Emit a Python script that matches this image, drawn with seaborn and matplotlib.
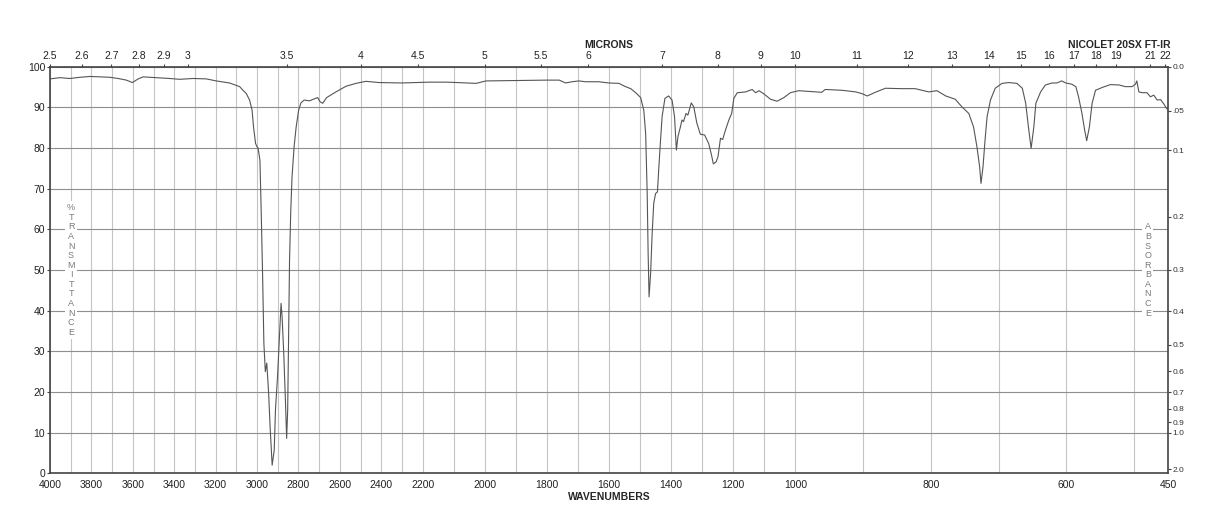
import matplotlib
matplotlib.use("Agg")
import matplotlib.pyplot as plt
import numpy as np
import seaborn as sns

# spectrum (cm-1, %T)
wavenumber = [4000, 3952, 3904, 3855, 3807, 3759, 3711, 3671, 3631, 3602,
              3574, 3550, 3486, 3422, 3373, 3309, 3245, 3197, 3133, 3084,
              3068, 3052, 3036, 3024, 3017, 3007, 3000, 2995, 2986, 2980,
              2973, 2967, 2960, 2953, 2944, 2937, 2927, 2917, 2911, 2901,
              2892, 2884, 2879, 2871, 2863, 2857, 2852, 2847, 2843, 2837,
              2831, 2821, 2811, 2799, 2788, 2772, 2747, 2728, 2707, 2696,
              2683, 2664, 2619, 2570, 2522, 2474, 2410, 2300, 2179, 2120,
              2060, 2028, 1996, 1900, 1800, 1760, 1740, 1719, 1697, 1676,
              1633, 1601, 1568, 1547, 1530, 1514, 1498, 1488, 1482, 1477,
              1474, 1471, 1466, 1461, 1456, 1450, 1444, 1440, 1434, 1429,
              1420, 1408, 1397, 1389, 1383, 1378, 1370, 1365, 1360, 1352,
              1346, 1335, 1327, 1317, 1306, 1292, 1279, 1270, 1264, 1255,
              1249, 1241, 1234, 1225, 1214, 1205, 1198, 1187, 1160, 1139,
              1128, 1117, 1101, 1080, 1059, 1037, 1016, 995, 961, 956,
              931, 911, 902, 894, 882, 867, 843, 823, 803, 791,
              778, 764, 754, 744, 737, 732, 728, 726, 723, 720,
              717, 712, 705, 695, 685, 673, 665, 660, 656, 652,
              648, 645, 638, 631, 621, 614, 607, 601, 592, 586,
              582, 577, 573, 570, 566, 562, 557, 547, 535, 522,
              513, 503, 498, 496, 493, 488, 481, 476, 471, 466,
              461, 456, 452, 450]
transmittance = [97.0, 97.3, 97.1, 97.4, 97.6, 97.5, 97.4, 97.1, 96.7, 96.1,
                 97.0, 97.5, 97.3, 97.1, 96.9, 97.1, 97.0, 96.5, 96.0, 95.1,
                 94.2, 93.4, 91.8, 89.3, 85.2, 81.1, 80.3, 80.0, 77.0, 64.7,
                 48.3, 32.0, 25.0, 27.1, 19.7, 11.5, 2.0, 5.7, 15.6, 23.8,
                 33.6, 41.8, 38.5, 29.5, 18.0, 8.6, 15.6, 36.0, 52.4, 64.7,
                 72.9, 80.3, 85.2, 89.3, 91.1, 91.8, 91.6, 92.0, 92.4, 91.4,
                 91.0, 92.4, 93.8, 95.2, 95.9, 96.4, 96.1, 96.0, 96.2, 96.2,
                 96.0, 95.9, 96.5, 96.6, 96.7, 96.7, 96.0, 96.3, 96.5, 96.3,
                 96.3, 96.0, 95.9, 95.1, 94.6, 93.6, 92.4, 89.3, 83.6, 68.8,
                 54.1, 43.4, 49.2, 59.0, 66.4, 68.8, 69.2, 74.6, 82.0, 87.7,
                 92.2, 92.8, 91.8, 87.7, 79.5, 82.8, 85.2, 86.9, 86.5, 88.5,
                 88.1, 91.1, 90.1, 86.1, 83.4, 83.2, 81.1, 78.3, 76.1, 76.6,
                 77.9, 82.4, 82.1, 84.4, 86.9, 88.5, 92.2, 93.6, 93.8, 94.4,
                 93.6, 94.1, 93.3, 92.0, 91.5, 92.4, 93.6, 94.1, 93.7, 94.4,
                 94.2, 93.8, 93.4, 92.8, 93.7, 94.7, 94.6, 94.6, 93.8, 94.1,
                 92.8, 92.0, 90.1, 88.5, 85.2, 80.3, 75.4, 71.3, 75.4, 82.0,
                 87.7, 91.8, 94.7, 95.9, 96.1, 95.9, 94.7, 91.0, 85.2, 79.9,
                 85.2, 91.0, 93.8, 95.5, 96.0, 96.0, 96.5, 96.0, 95.7, 95.1,
                 92.6, 88.5, 84.4, 81.8, 85.2, 91.0, 94.2, 94.9, 95.6, 95.5,
                 95.1, 95.1, 95.7, 96.5, 93.8, 93.6, 93.6, 92.6, 93.0, 91.8,
                 91.9, 90.8, 89.7, 89.5]

wn_ticks = [4000, 3800, 3600, 3400, 3200, 3000, 2800, 2600, 2400, 2200,
            2000, 1800, 1600, 1400, 1200, 1000, 800, 600, 450]
micron_ticks = [2.5, 2.6, 2.7, 2.8, 2.9, 3, 3.5, 4, 4.5, 5, 5.5, 6, 7, 8, 9,
                10, 11, 12, 13, 14, 15, 16, 17, 18, 19, 21, 22]
micron_labels = ["2.5", "2.6", "2.7", "2.8", "2.9", "3", "3.5", "4", "4.5",
                 "5", "5.5", "6", "7", "8", "9", "10", "11", "12", "13", "14",
                 "15", "16", "17", "18", "19", "21", "22"]
abs_ticks = [0.0, 0.05, 0.1, 0.2, 0.3, 0.4, 0.5, 0.6, 0.7, 0.8, 0.9, 1.0, 2.0]
abs_labels = ["0.0", ".05", "0.1", "0.2", "0.3", "0.4", "0.5", "0.6", "0.7",
              "0.8", "0.9", "1.0", "2.0"]

# chart paper: 4000-2200, 2200-1000 and 1000-450 each take a third of the width
breaks = [450, 1000, 2200, 4000]


def fwd(w):
    return np.interp(w, breaks, [0, 1, 2, 3])


def inv(u):
    return np.interp(u, [0, 1, 2, 3], breaks)


sns.set_style("white")
plt.rcParams["font.family"] = ["Liberation Sans", "DejaVu Sans"]

W, H = 1218, 528
fig = plt.figure(figsize=(W / 100, H / 100), dpi=100)
x0, x1, ytop, ybot = 50, 1168, 66.7, 473.3
ax = fig.add_axes([x0 / W, (H - ybot) / H, (x1 - x0) / W, (ybot - ytop) / H])

sns.lineplot(x=wavenumber, y=transmittance, ax=ax, color="#555555",
             lw=0.8, estimator=None, sort=False)

ax.set_xscale("function", functions=(fwd, inv))
ax.set_xlim(4000, 450)
ax.set_ylim(0, 100)

ax.set_xticks(wn_ticks)
ax.set_xticklabels([str(t) for t in wn_ticks])
ax.set_xticks(list(range(500, 4000, 100)), minor=True)
ax.set_yticks(range(0, 101, 10))
ax.set_yticklabels([str(t) for t in range(0, 101, 10)])

ax.grid(which="both", axis="x", color="#c4c4c4", lw=0.8)
ax.grid(which="major", axis="y", color="#8e8e8e", lw=0.8)
ax.set_axisbelow(True)
ax.tick_params(axis="x", which="both", length=0, pad=5, labelsize=7.5,
               labelcolor="#222222")
ax.tick_params(axis="y", length=2, pad=1.5, labelsize=7.5, color="#444444",
               labelcolor="#222222")
for sp in ax.spines.values():
    sp.set_visible(True)
    sp.set_color("#444444")
    sp.set_linewidth(1.2)
ax.set_xlabel("")
ax.set_ylabel("")

# microns along the top
top = ax.twiny()
top.set_xscale("function", functions=(fwd, inv))
top.set_xlim(4000, 450)
top.set_xticks([10000 / m for m in micron_ticks])
top.set_xticklabels(micron_labels)
top.set_xticks([], minor=True)
top.tick_params(axis="x", length=2.2, pad=2, labelsize=7.5, color="#444444",
                labelcolor="#222222")

# absorbance along the right
right = ax.twinx()
right.set_ylim(0, 100)
right.set_yticks([100 * 10 ** (-a) for a in abs_ticks])
right.set_yticklabels(abs_labels)
right.tick_params(axis="y", length=2.2, pad=1, labelsize=6, color="#444444",
                  labelcolor="#333333")
for a2 in (top, right):
    for sp in a2.spines.values():
        sp.set_visible(False)

box = dict(facecolor="white", edgecolor="none", pad=1.5)
ax.text(0.0188, 0.5, "\n".join("%TRANSMITTANCE"), transform=ax.transAxes,
        ha="center", va="center", fontsize=6.5, color="#7a7a7a",
        linespacing=1.08, bbox=box, zorder=3)
ax.text(0.982, 0.5, "\n".join("ABSORBANCE"), transform=ax.transAxes,
        ha="center", va="center", fontsize=6.5, color="#7a7a7a",
        linespacing=1.08, bbox=box, zorder=3)

fig.text(609 / W, 1 - 496.7 / H, "WAVENUMBERS", ha="center", va="center",
         fontsize=7.5, fontweight="bold")
fig.text(609 / W, 1 - 44.7 / H, "MICRONS", ha="center", va="center",
         fontsize=7.5, fontweight="bold")
fig.text(1171 / W, 1 - 44.7 / H, "NICOLET 20SX FT-IR", ha="right",
         va="center", fontsize=7.5, fontweight="bold")

fig.savefig("out.png", dpi=100)
